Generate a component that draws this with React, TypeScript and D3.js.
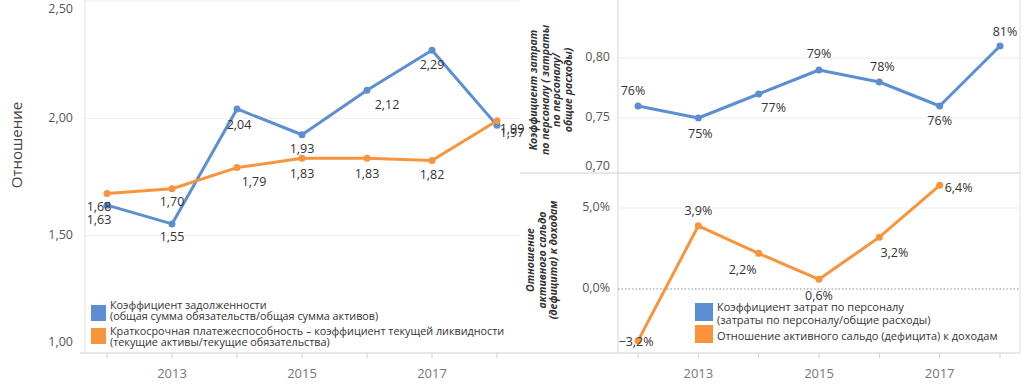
import React from "react";
import * as d3 from "d3";

// ---------- data ----------
const years = [2012, 2013, 2014, 2015, 2016, 2017, 2018];
const debtRatio = [1.63, 1.55, 2.04, 1.93, 2.12, 2.29, 1.97];
const currentRatio = [1.68, 1.7, 1.79, 1.83, 1.83, 1.82, 1.99];
const staffCostRatio = [0.76, 0.75, 0.77, 0.79, 0.78, 0.76, 0.81];
const surplusYears = [2012, 2013, 2014, 2015, 2016, 2017];
const surplusRatio = [-3.2, 3.9, 2.2, 0.6, 3.2, 6.4];
const leftTicks = [1.0, 1.5, 2.0, 2.5];
const topRightTicks = [0.7, 0.75, 0.8];
const bottomRightTicks = [0, 5];
const yearLabels = [2013, 2015, 2017];

const leftLegend = [
  ["Коэффициент задолженности", "(общая сумма обязательств/общая сумма активов)"],
  ["Краткосрочная платежеспособность – коэффициент текущей ликвидности", "(текущие активы/текущие обязательства)"],
];
const rightLegend = [
  ["Коэффициент затрат по персоналу", "(затраты по персоналу/общие расходы)"],
  ["Отношение активного сальдо (дефицита) к доходам"],
];
const leftTitle = "Отношение";
const topRightTitle = ["Коэффициент затрат", "по персоналу ( затраты", "по персоналу/", "общие расходы)"];
const bottomRightTitle = ["Отношение", "активного сальдо", "(дефицита) к доходам"];

// ---------- layout (label offsets relative to points) ----------
const debtLabelOff = [[-8, 15], [0, 14], [2, 17], [0, 15], [20, 15], [0, 15], [15, 8]];
const currentLabelOff = [[-8, 14], [0, 14], [17, 15], [0, 16], [0, 16], [0, 15], [15, 9]];
const staffLabelOff = [[-5, -14], [2, 17], [15, 15], [0, -15], [3, -14], [0, 16], [5, -13]];
const surplusLabelOff = [[-2, 2], [0, -14], [-16, 17], [0, 17], [15, 16], [19, 3]];

const BLUE = "#5b8fd2";
const ORANGE = "#f7943c";
const FONT = "'Open Sans', 'Noto Sans', sans-serif";

const ru = d3.formatLocale({ decimal: ",", thousands: " ", grouping: [3], currency: ["", ""] });
const f2 = ru.format(".2f");
const f1 = ru.format(".1f");
const fp0 = ru.format(".0%");

export default function App() {
  // scales
  const xL = d3.scaleLinear().domain([2012, 2018]).range([107, 497]);
  const yL = d3.scaleLinear().domain([1.0, 2.5]).range([353, 1]);
  const xR = d3.scaleLinear().domain([2012, 2018]).range([638, 1000]);
  const yT = d3.scaleLinear().domain([0.7, 0.85]).range([178, -2]);
  const yB = d3.scaleLinear().domain([-4, 7]).range([353.8, 175.6]);

  const lineL = (vals: number[]) =>
    d3.line<number>().x((_, i) => xL(years[i])).y((d) => yL(d))(vals) || "";
  const lineT = d3.line<number>().x((_, i) => xR(years[i])).y((d) => yT(d))(staffCostRatio) || "";
  const lineB = d3.line<number>().x((_, i) => xR(surplusYears[i])).y((d) => yB(d))(surplusRatio) || "";

  const labelStyle = { fontFamily: FONT, fontSize: 12.5, fill: "#333" } as const;

  const clamp = (v: number, lo: number, hi: number) => Math.max(lo, Math.min(hi, v));

  return (
    <svg
      width={1026}
      height={387}
      style={{ position: "absolute", left: 0, top: 0, background: "#fff" }}
      fontFamily={FONT}
    >
      {/* ---------------- LEFT PANEL ---------------- */}
      {leftTicks.map((t) => (
        <g key={"lt" + t}>
          {t > 1.0 && <line x1={85} x2={520} y1={yL(t)} y2={yL(t)} stroke="#ededed" strokeWidth={1} />}
          <text
            x={73}
            y={clamp(yL(t), 10, 343)}
            textAnchor="end"
            dominantBaseline="middle"
            fontSize={12.5}
            fill="#555"
          >
            {f2(t)}
          </text>
        </g>
      ))}
      <line x1={85} x2={85} y1={0} y2={353} stroke="#e2e2e2" />
      <line x1={80} x2={1020} y1={353} y2={353} stroke="#d0d0d0" />
      {years.map((y) => (
        <line key={"ltk" + y} x1={xL(y)} x2={xL(y)} y1={353} y2={358} stroke="#d0d0d0" />
      ))}
      {yearLabels.map((y) => (
        <text key={"lyl" + y} x={xL(y)} y={375} textAnchor="middle" dominantBaseline="middle" fontSize={13} fill="#777">
          {y}
        </text>
      ))}
      <text
        transform="translate(18,145) rotate(-90)"
        textAnchor="middle"
        dominantBaseline="middle"
        fontSize={15}
        fill="#444"
      >
        {leftTitle}
      </text>

      <path d={lineL(debtRatio)} fill="none" stroke={BLUE} strokeWidth={3} strokeLinejoin="round" />
      <path d={lineL(currentRatio)} fill="none" stroke={ORANGE} strokeWidth={3} strokeLinejoin="round" />
      {debtRatio.map((v, i) => (
        <circle key={"dc" + i} cx={xL(years[i])} cy={yL(v)} r={3.5} fill={BLUE} />
      ))}
      {currentRatio.map((v, i) => (
        <circle key={"cc" + i} cx={xL(years[i])} cy={yL(v)} r={3.5} fill={ORANGE} />
      ))}
      {currentRatio.map((v, i) => (
        <text
          key={"cl" + i}
          x={xL(years[i]) + currentLabelOff[i][0]}
          y={yL(v) + currentLabelOff[i][1]}
          textAnchor="middle"
          dominantBaseline="middle"
          {...labelStyle}
        >
          {f2(v)}
        </text>
      ))}
      {debtRatio.map((v, i) => (
        <text
          key={"dl" + i}
          x={xL(years[i]) + debtLabelOff[i][0]}
          y={yL(v) + debtLabelOff[i][1]}
          textAnchor="middle"
          dominantBaseline="middle"
          {...labelStyle}
        >
          {f2(v)}
        </text>
      ))}

      {/* left legend */}
      {leftLegend.map((lines, k) => (
        <g key={"ll" + k}>
          <rect x={91} y={305 + k * 23} width={15} height={16} fill={k === 0 ? BLUE : ORANGE} />
          {lines.map((s, j) => (
            <text key={j} x={110} y={306 + k * 26 + j * 11} dominantBaseline="middle" fontSize={10.8} fill="#333">
              {s}
            </text>
          ))}
        </g>
      ))}

      {/* ---------------- RIGHT PANEL ---------------- */}
      <line x1={618} x2={618} y1={0} y2={353} stroke="#d4d4d4" />
      <line x1={1020} x2={1020} y1={0} y2={353} stroke="#e0e0e0" />
      <line x1={520} x2={1020} y1={173} y2={173} stroke="#d0d0d0" />

      {/* top right */}
      {topRightTicks.map((t) => (
        <g key={"tt" + t}>
          {t > 0.7 && <line x1={618} x2={1020} y1={yT(t)} y2={yT(t)} stroke="#ededed" />}
          <text
            x={610}
            y={clamp(yT(t), 10, 167)}
            textAnchor="end"
            dominantBaseline="middle"
            fontSize={12.5}
            fill="#555"
          >
            {f2(t)}
          </text>
        </g>
      ))}
      <text
        transform="translate(550,90) rotate(-90)"
        textAnchor="middle"
        fontSize={10.5}
        fontStyle="italic"
        fontWeight="bold"
        fill="#333"
      >
        {topRightTitle.map((s, j) => (
          <tspan key={j} x={0} y={-13 + j * 11.5}>
            {s}
          </tspan>
        ))}
      </text>
      <path d={lineT} fill="none" stroke={BLUE} strokeWidth={3} strokeLinejoin="round" />
      {staffCostRatio.map((v, i) => (
        <circle key={"sc" + i} cx={xR(years[i])} cy={yT(v)} r={3.5} fill={BLUE} />
      ))}
      {staffCostRatio.map((v, i) => (
        <text
          key={"sl" + i}
          x={xR(years[i]) + staffLabelOff[i][0]}
          y={yT(v) + staffLabelOff[i][1]}
          textAnchor="middle"
          dominantBaseline="middle"
          {...labelStyle}
        >
          {fp0(v)}
        </text>
      ))}

      {/* bottom right */}
      <line x1={618} x2={1020} y1={yB(5)} y2={yB(5)} stroke="#ededed" />
      <line x1={618} x2={1020} y1={yB(0)} y2={yB(0)} stroke="#8a8a8a" strokeDasharray="1.5,2" />
      {bottomRightTicks.map((t) => (
        <text
          key={"bt" + t}
          x={610}
          y={yB(t)}
          textAnchor="end"
          dominantBaseline="middle"
          fontSize={12.5}
          fill="#555"
        >
          {f1(t) + "%"}
        </text>
      ))}
      <text
        transform="translate(543,260) rotate(-90)"
        textAnchor="middle"
        fontSize={10.5}
        fontStyle="italic"
        fontWeight="bold"
        fill="#333"
      >
        {bottomRightTitle.map((s, j) => (
          <tspan key={j} x={0} y={-9 + j * 11.5}>
            {s}
          </tspan>
        ))}
      </text>
      {years.map((y) => (
        <line key={"rtk" + y} x1={xR(y)} x2={xR(y)} y1={353} y2={358} stroke="#d0d0d0" />
      ))}
      {yearLabels.map((y) => (
        <text key={"ryl" + y} x={xR(y)} y={375} textAnchor="middle" dominantBaseline="middle" fontSize={13} fill="#777">
          {y}
        </text>
      ))}
      <path d={lineB} fill="none" stroke={ORANGE} strokeWidth={3} strokeLinejoin="round" />
      {surplusRatio.map((v, i) => (
        <circle key={"bc" + i} cx={xR(surplusYears[i])} cy={yB(v)} r={3.5} fill={ORANGE} />
      ))}
      {surplusRatio.map((v, i) => (
        <text
          key={"bl" + i}
          x={xR(surplusYears[i]) + surplusLabelOff[i][0]}
          y={yB(v) + surplusLabelOff[i][1]}
          textAnchor="middle"
          dominantBaseline="middle"
          {...labelStyle}
        >
          {f1(v) + "%"}
        </text>
      ))}

      {/* right legend */}
      {rightLegend.map((lines, k) => (
        <g key={"rl" + k}>
          <rect x={695} y={303 + k * 22} width={18} height={18} fill={k === 0 ? BLUE : ORANGE} />
          {lines.map((s, j) => (
            <text key={j} x={717} y={308 + k * 29 + j * 13} dominantBaseline="middle" fontSize={11} fill="#333">
              {s}
            </text>
          ))}
        </g>
      ))}
    </svg>
  );
}
